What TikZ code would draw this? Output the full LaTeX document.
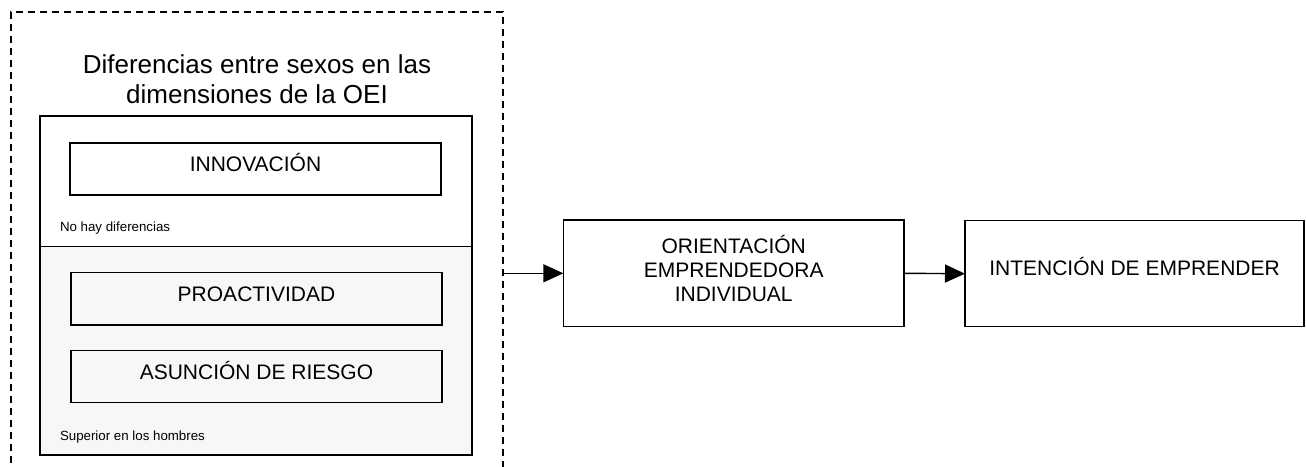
\documentclass[tikz,border=0pt]{standalone}
\usepackage{fontspec}
\setmainfont{Liberation Sans}
\usetikzlibrary{arrows.meta}
\begin{document}
\begin{tikzpicture}[x=1pt,y=-1pt,
  every node/.style={inner sep=0pt, outer sep=0pt},
  frame/.style={draw, line width=1.4pt, rectangle},
  boxtext/.style={frame, font=\fontsize{21}{23.85}\selectfont, text height=15pt, text depth=9.4pt},
  small/.style={font=\fontsize{13.3}{15}\selectfont, anchor=base west},
  conn/.style={draw, line width=1.4pt, -{Triangle[length=20pt, width=18pt]}}]
\clip (0,0) rectangle (1306,466);
% dashed group
\node[draw, line width=1.3pt, dash pattern=on 7pt off 5pt, minimum width=492pt, minimum height=468pt] (grupo) at (257,246) {};
\node[align=center, anchor=north, font=\fontsize{26}{30}\selectfont] (titulo) at (257,54.3) {\rule{0pt}{19pt}\smash{Diferencias entre sexos en las}\\dimensiones de la OEI};
% sections
\node[frame, fill=black!3, minimum width=432pt, minimum height=208.3pt] (supH) at (256,350.8) {};
\node[frame, fill=white, minimum width=432pt, minimum height=130.7pt] (sinDif) at (256,181.3) {};
\node[boxtext, minimum width=371pt, minimum height=52pt] (innov) at (255.5,168.9) {INNOVACIÓN};
\node[small] (nohay) at (60,231.5) {No hay diferencias};
\node[boxtext, minimum width=371pt, minimum height=52.3pt] (proact) at (256.5,298.8) {PROACTIVIDAD};
\node[boxtext, minimum width=371pt, minimum height=52pt] (asun) at (256.5,376.7) {ASUNCIÓN DE RIESGO};
\node[small] (superior) at (60,440) {Superior en los hombres};
% right boxes
\node[frame, align=center, font=\fontsize{21}{23.85}\selectfont, minimum width=340.7pt, minimum height=106.7pt] (orient) at (733.7,273.3) {\rule{0pt}{15pt}\smash{ORIENTACIÓN}\\EMPRENDEDORA\\INDIVIDUAL\rule[-7.3pt]{0pt}{7.3pt}};
\node[boxtext, text depth=12.4pt, minimum width=339pt, minimum height=106pt] (intenc) at (1134.5,273.7) {INTENCIÓN DE EMPRENDER};
% connectors
\draw[conn] (grupo.east |- orient.west) -- (orient.west);
\draw[conn] (orient.east) -- (intenc.west);
\end{tikzpicture}
\end{document}
